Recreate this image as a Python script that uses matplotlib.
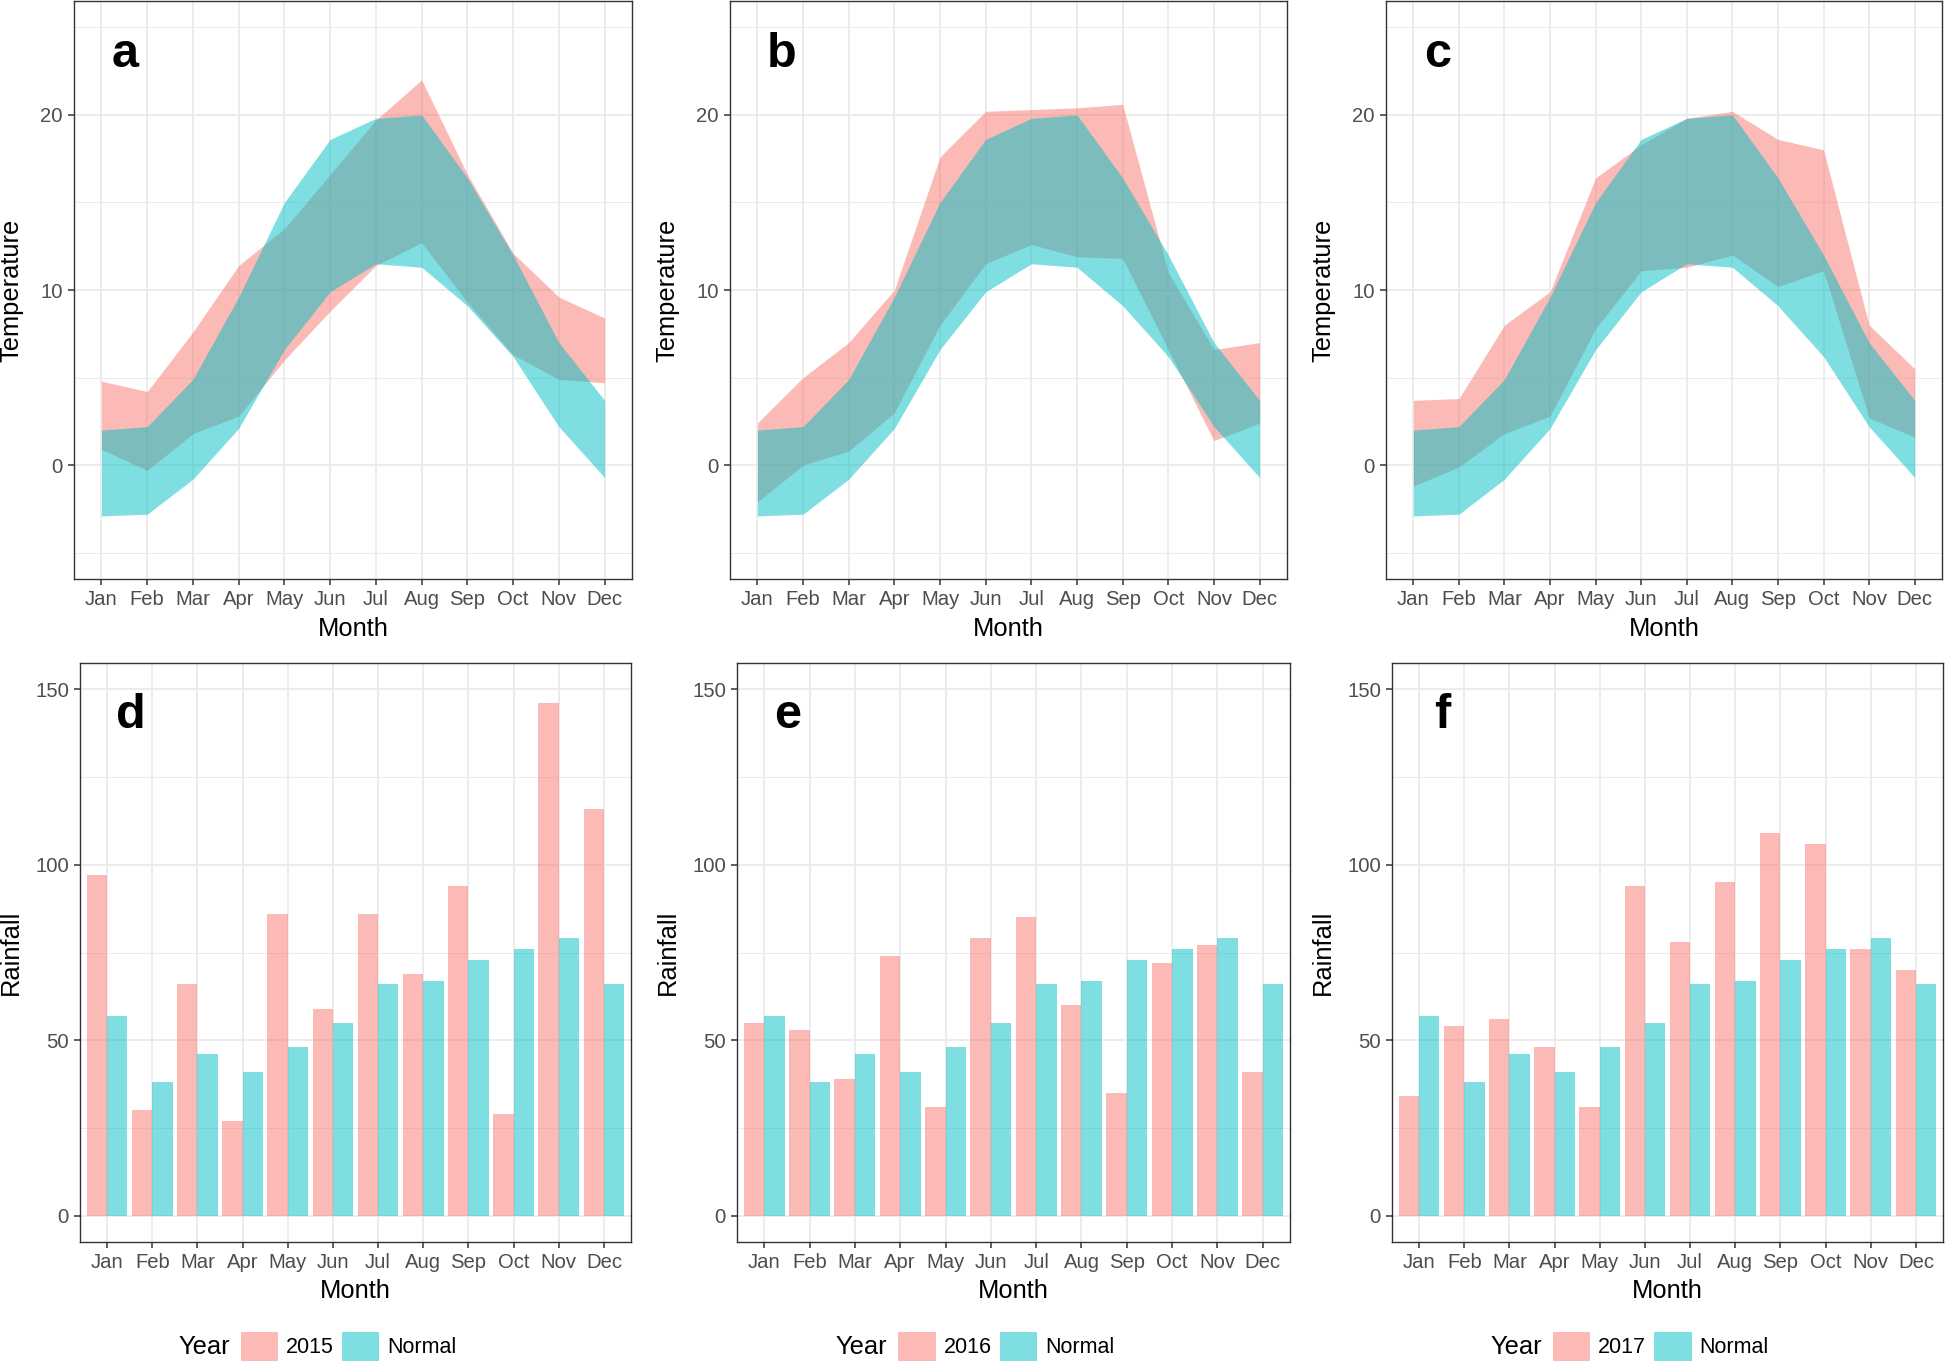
import numpy as np
import matplotlib.pyplot as plt
from matplotlib.patches import Patch

plt.rcParams["font.family"] = ["Liberation Sans", "DejaVu Sans"]

# ---------------------------------------------------------------------------
# data
# ---------------------------------------------------------------------------
months = ["Jan", "Feb", "Mar", "Apr", "May", "Jun",
          "Jul", "Aug", "Sep", "Oct", "Nov", "Dec"]
years = ["2015", "2016", "2017"]

# temperature ranges (min / max per month)
normal_tmax = [2.0, 2.2, 4.9, 9.6, 15.0, 18.6, 19.8, 20.0, 16.4, 12.0, 7.0, 3.7]
normal_tmin = [-2.9, -2.8, -0.8, 2.1, 6.6, 9.9, 11.5, 11.3, 9.1, 6.2, 2.2, -0.7]

tmax_2015 = [4.8, 4.2, 7.6, 11.4, 13.5, 16.6, 19.7, 22.0, 16.6, 12.1, 9.6, 8.4]
tmin_2015 = [0.9, -0.3, 1.8, 2.8, 6.0, 8.8, 11.4, 12.7, 9.3, 6.3, 4.9, 4.7]

tmax_2016 = [2.4, 5.0, 7.0, 10.0, 17.6, 20.2, 20.3, 20.4, 20.6, 11.0, 6.6, 7.0]
tmin_2016 = [-2.1, 0.0, 0.8, 3.0, 8.0, 11.5, 12.6, 11.9, 11.8, 6.6, 1.4, 2.4]

tmax_2017 = [3.7, 3.8, 8.0, 9.9, 16.4, 18.3, 19.8, 20.2, 18.6, 18.0, 8.0, 5.5]
tmin_2017 = [-1.2, -0.1, 1.8, 2.8, 7.8, 11.1, 11.3, 12.0, 10.2, 11.1, 2.7, 1.6]

# monthly rainfall
rain_normal = [57, 38, 46, 41, 48, 55, 66, 67, 73, 76, 79, 66]
rain_2015 = [97, 30, 66, 27, 86, 59, 86, 69, 94, 29, 146, 116]
rain_2016 = [55, 53, 39, 74, 31, 79, 85, 60, 35, 72, 77, 41]
rain_2017 = [34, 54, 56, 48, 31, 94, 78, 95, 109, 106, 76, 70]

temp_max = [tmax_2015, tmax_2016, tmax_2017]
temp_min = [tmin_2015, tmin_2016, tmin_2017]
rain_year = [rain_2015, rain_2016, rain_2017]

# ---------------------------------------------------------------------------
# style
# ---------------------------------------------------------------------------
RED = "#F8766D"
CYAN = "#00BFC4"
ALPHA = 0.5
GRID = "#EBEBEB"
FRAME = "#333333"
TICK_TXT = "#4D4D4D"

W, H = 1946, 1367
fig = plt.figure(figsize=(W / 100, H / 100), dpi=100)


def px_axes(left, top, right, bottom):
    return fig.add_axes([left / W, 1 - bottom / H, (right - left) / W, (bottom - top) / H])


def style(ax, ylim, major, minor, ylab, ylab_x, xlab_y):
    ax.set_xlim(0.4, 12.6)
    ax.set_ylim(*ylim)
    ax.set_xticks(np.arange(1, 13))
    ax.set_xticklabels(months)
    ax.set_yticks(major)
    ax.set_yticks(minor, minor=True)
    ax.set_axisbelow(True)
    ax.grid(True, which="major", color=GRID, linewidth=1.3)
    ax.grid(True, which="minor", axis="y", color=GRID, linewidth=0.7)
    for s in ax.spines.values():
        s.set_color(FRAME)
        s.set_linewidth(1.0)
    ax.tick_params(which="major", length=4.5, width=1.1, color=FRAME,
                   labelsize=14.6, labelcolor=TICK_TXT)
    ax.tick_params(axis="x", pad=3.2)
    ax.tick_params(axis="y", pad=3.5)
    ax.tick_params(which="minor", length=0)
    ax.set_xlabel("Month", fontsize=18.4)
    ax.set_ylabel(ylab, fontsize=18.4)
    ax.xaxis.set_label_coords(0.5, xlab_y)
    ax.yaxis.set_label_coords(ylab_x, 0.5)
    ax.xaxis.label.set_verticalalignment("center")
    ax.yaxis.label.set_verticalalignment("center")


x = np.arange(1, 13)

# --- temperature row -------------------------------------------------------
top_boxes = [(74, 1, 632, 579), (730, 1, 1287, 579), (1386, 1, 1942, 579)]
for i, (box, letter) in enumerate(zip(top_boxes, "abc")):
    ax = px_axes(*box)
    ax.fill_between(x, temp_min[i], temp_max[i], color=RED, alpha=ALPHA, linewidth=0)
    ax.fill_between(x, normal_tmin, normal_tmax, color=CYAN, alpha=ALPHA, linewidth=0)
    style(ax, (-6.5, 26.5), [0, 10, 20], [-5, 5, 15, 25],
          "Temperature", -0.112, -0.087)
    ax.text(0.092, 0.885, letter, transform=ax.transAxes, fontsize=35,
            fontweight="bold", ha="center", va="baseline")

# --- rainfall row ----------------------------------------------------------
bot_boxes = [(80, 663, 631, 1242), (737, 663, 1290, 1242), (1392, 663, 1943, 1242)]
for i, (box, letter) in enumerate(zip(bot_boxes, "def")):
    ax = px_axes(*box)
    ax.bar(x - 0.225, rain_year[i], width=0.45, color=RED, alpha=ALPHA, linewidth=0)
    ax.bar(x + 0.225, rain_normal, width=0.45, color=CYAN, alpha=ALPHA, linewidth=0)
    style(ax, (-7.5, 157.5), [0, 50, 100, 150], [25, 75, 125],
          "Rainfall", -0.125, -0.084)
    ax.text(0.092, 0.888, letter, transform=ax.transAxes, fontsize=35,
            fontweight="bold", ha="center", va="baseline")

    # legend under each rainfall panel
    handles = [Patch(facecolor=RED, alpha=ALPHA, edgecolor="none"),
               Patch(facecolor=CYAN, alpha=ALPHA, edgecolor="none")]
    ax.legend(handles, [years[i], "Normal"], loc="center left",
              bbox_to_anchor=(0.292, -0.1805), bbox_transform=ax.transAxes,
              ncol=2, frameon=False, fontsize=15.5, handlelength=1.72,
              handleheight=1.72, handletextpad=0.37, columnspacing=0.4,
              borderpad=0, borderaxespad=0)
    ax.text(0.179, -0.1805, "Year", transform=ax.transAxes, fontsize=18.4,
            ha="left", va="center")

fig.savefig("out.png", dpi=100)
